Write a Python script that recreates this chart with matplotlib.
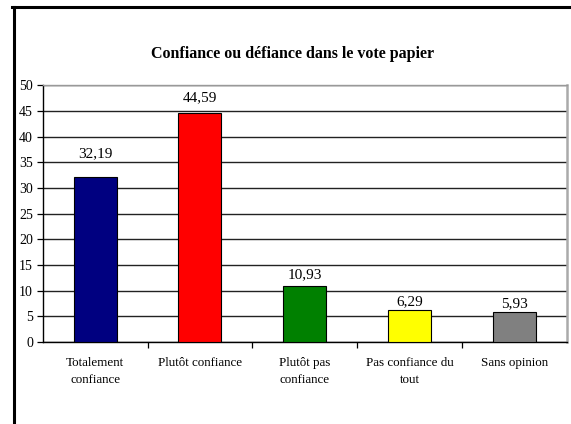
import matplotlib
matplotlib.use('Agg')
import matplotlib.pyplot as plt
from matplotlib.lines import Line2D

# data
categories = ['Totalement\nconfiance', 'Plutôt confiance', 'Plutôt pas\nconfiance',
              'Pas confiance du\ntout', 'Sans opinion']
values = [32.19, 44.59, 10.93, 6.29, 5.93]
value_labels = ['32,19', '44,59', '10,93', '6,29', '5,93']
colors = ['#000080', '#FF0000', '#008000', '#FFFF00', '#808080']
title = 'Confiance ou défiance dans le vote papier'

# label offsets above bars (points), as Excel placed them
label_offsets = [17, 11, 8, 6, 6]

plt.rcParams['font.family'] = ['Liberation Serif', 'DejaVu Serif']

fig = plt.figure(figsize=(5.71, 4.24), dpi=100)
ax = fig.add_axes([42.7 / 571, 82 / 424, (567 - 42.7) / 571, (342.3 - 85.7) / 424])

x = range(len(values))
ax.bar(x, values, width=0.41, color=colors, edgecolor='black', linewidth=0.8, zorder=3)

for i, v in enumerate(values):
    ax.annotate(value_labels[i], (i, v), xytext=(0, label_offsets[i]),
                textcoords='offset points', ha='center', va='center', fontsize=11)

ax.set_xlim(-0.5, len(values) - 0.5)
ax.set_ylim(0, 50)
ax.set_yticks(range(0, 51, 5))
ax.yaxis.grid(True, color='#222222', linewidth=1.0, zorder=0)
ax.set_axisbelow(True)

# category ticks between bars, labels centred under bars
ax.set_xticks([i + 0.5 for i in range(len(values) - 1)])
ax.set_xticklabels([])
ax.set_xticks(list(x), minor=True)
ax.set_xticklabels(categories, minor=True, fontsize=9.4, linespacing=1.55)
ax.tick_params(axis='x', which='major', direction='out', length=4, width=0.9)
ax.tick_params(axis='x', which='minor', length=0, pad=11)
ax.tick_params(axis='y', direction='out', length=4, width=0.9, labelsize=10, pad=3)

ax.spines['left'].set_color('black')
ax.spines['bottom'].set_color('black')
ax.spines['top'].set_color('#999999')
ax.spines['right'].set_color('#aaaaaa')
ax.spines['right'].set_linewidth(1.8)
for s in ['left', 'bottom', 'top']:
    ax.spines[s].set_linewidth(1.0)

fig.text(293 / 571, 1 - 54 / 424, title, ha='center', va='center',
         fontsize=11.5, fontweight='bold')

# chart frame (left and top edges)
fig.add_artist(Line2D([13.5 / 571, 13.5 / 571], [0, 1 - 6.5 / 424], color='black', linewidth=2.2))
fig.add_artist(Line2D([12.4 / 571, 1], [1 - 6.5 / 424, 1 - 6.5 / 424], color='black', linewidth=2.2))

plt.savefig('out.png', dpi=100)
